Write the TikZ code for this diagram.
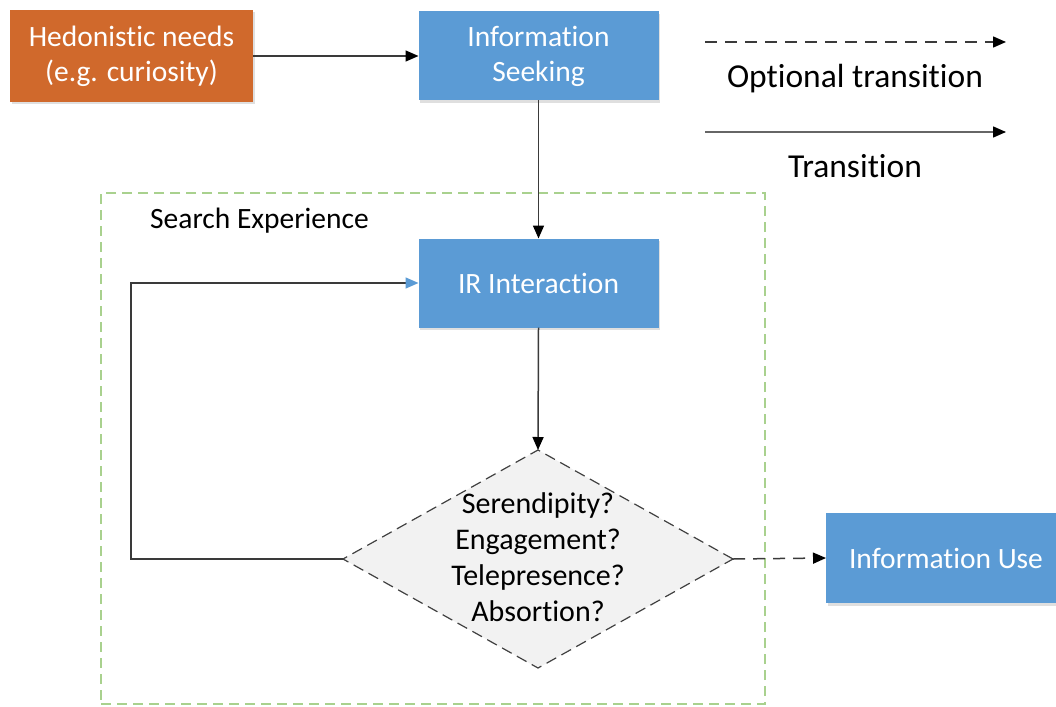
\documentclass[tikz,border=0pt]{standalone}
\usepackage{fontspec}
\setmainfont{Carlito}[Ligatures={NoCommon}]
\usetikzlibrary{arrows.meta,shapes.geometric,shadows}
\definecolor{boxblue}{HTML}{5B9BD5}
\definecolor{boxorange}{HTML}{D0692C}
\definecolor{grpgreen}{HTML}{A9D18E}
\definecolor{diafill}{HTML}{F2F2F2}
\definecolor{linegray}{HTML}{3A3A3A}
\begin{document}
\begin{tikzpicture}[x=1pt,y=-1pt,
  boxbase/.style={rectangle, minimum width=240pt, minimum height=89pt, inner sep=0pt, outer sep=0pt,
    text=white, align=center, font=\fontsize{29.5}{35}\selectfont,
    drop shadow={shadow xshift=1.5pt,shadow yshift=-2.5pt,opacity=0.25}},
  bluebox/.style={boxbase, fill=boxblue},
  orangebox/.style={boxbase, fill=boxorange, minimum width=243pt, minimum height=92pt},
  conn/.style={draw=linegray, line width=1.5pt, -{Triangle[length=13pt,width=11pt,color=black]}},
  optconn/.style={conn, dash pattern=on 12pt off 8pt},
  legtext/.style={font=\fontsize{33.5}{40}\selectfont, text=black, inner sep=0pt, anchor=base},
  grptext/.style={font=\fontsize{29.5}{35}\selectfont, text=black, inner sep=0pt, anchor=base west},
]
\clip (0,0) rectangle (1056,706);
% group frame
\node (grp) [draw=grpgreen, line width=1.4pt, dash pattern=on 10pt off 6pt, rectangle,
  minimum width=664pt, minimum height=511pt, inner sep=0pt] at (433,448.5) {};
\node (grplabel) [grptext] at (150,228) {Search Experience};

% boxes
\node (hed) [orangebox] at (131.5,56) {Hedonistic needs\\(e.g. curiosity)};
\node (seek) [bluebox] at (538.5,56) {Information\\Seeking};
\node (ir) [bluebox] at (538.5,283) {IR Interaction};
\node (use) [bluebox, minimum height=90pt] at (946,558) {Information Use};

% decision diamond
\node (dia) [diamond, draw=black!75, fill=diafill, line width=1.2pt, dash pattern=on 11pt off 6pt,
  minimum width=390pt, minimum height=218pt, inner sep=0pt, outer sep=0pt] at (538,559) {};
\node (diatext) [align=center, font=\fontsize{30}{36}\selectfont, text=black, inner sep=0pt] at (538,557)
  {Serendipity?\\Engagement?\\Telepresence?\\Absortion?};

% connectors
\draw[conn] (hed.east) -- (seek.west);
\draw[conn] (seek.south) -- (ir.north);
\draw[conn] (ir.south) -- (dia.north);
\draw[draw=linegray, line width=1.5pt, -{Triangle[length=13pt,width=11pt,color=boxblue]}]
  (dia.west) -- ++(-212,0) |- (ir.west);
\draw[optconn] (dia.east) -- (use.west);

% legend
\coordinate (l1s) at (705,42);
\coordinate (l1e) at (1006,42);
\coordinate (l2s) at (705,132);
\coordinate (l2e) at (1006,132);
\draw[optconn] (l1s) -- (l1e);
\draw[conn, draw=gray!80!black] (l2s) -- (l2e);
\node (lt1) [legtext] at (855,88) {Optional transition};
\node (lt2) [legtext] at (855,177) {Transition};
\end{tikzpicture}
\end{document}
